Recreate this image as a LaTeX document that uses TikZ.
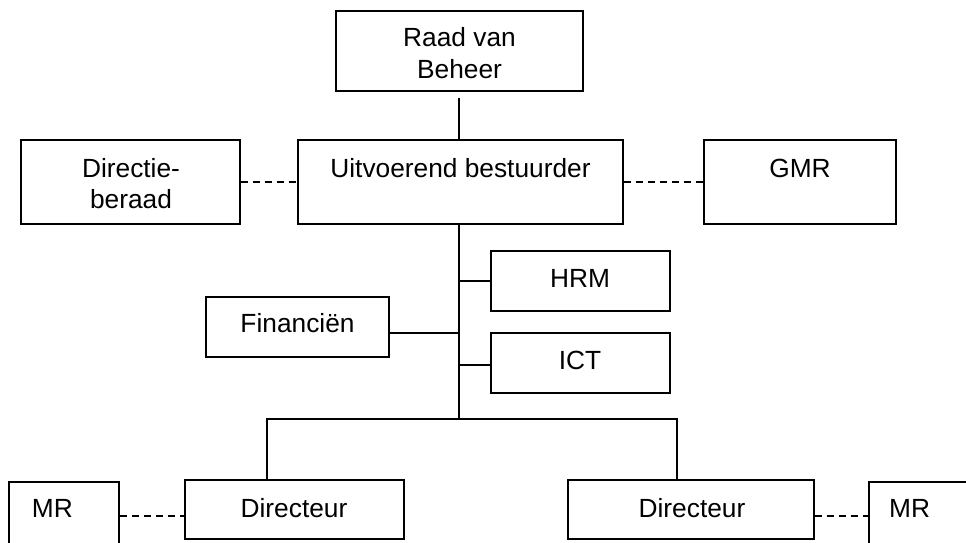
\documentclass[tikz,border=0pt]{standalone}
\usepackage{fontspec}
\setmainfont{Liberation Sans}
\begin{document}
\begin{tikzpicture}[x=1pt,y=-1pt,
 box/.style={draw, line width=1.4pt, inner sep=0pt, rectangle},
 txt/.style={inner sep=0pt, anchor=base, font=\fontsize{26.3}{31.5}\selectfont},
 conn/.style={line width=1.4pt},
 dconn/.style={line width=1.4pt, dash pattern=on 7pt off 5pt}]
\useasboundingbox (0,0) rectangle (966,543);
\begin{scope}
\clip (0,0) rectangle (966,543);
% boxes
\node[box, minimum width=247pt, minimum height=80pt] (raad) at (459.5,51) {};
\node[box, minimum width=219pt, minimum height=84pt] (dir) at (130.5,182) {};
\node[box, minimum width=325pt, minimum height=84pt] (uitv) at (460.5,182) {};
\node[box, minimum width=192pt, minimum height=84pt] (gmr) at (800,182) {};
\node[box, minimum width=179pt, minimum height=60pt] (hrm) at (580.5,281) {};
\node[box, minimum width=183pt, minimum height=60pt] (fin) at (297.5,327) {};
\node[box, minimum width=179pt, minimum height=60pt] (ict) at (580.5,363) {};
\node[box, minimum width=219pt, minimum height=59pt] (dirL) at (294.5,509.5) {};
\node[box, minimum width=246pt, minimum height=59pt] (dirR) at (691,509.5) {};
\node[box, minimum width=110pt, minimum height=118pt] (mrL) at (64,541) {};
\node[box, minimum width=131pt, minimum height=118pt] (mrR) at (934.5,541) {};
% texts
\node[txt] (t1) at (459.5,46.5) {Raad van};
\node[txt] (t2) at (459.5,78) {Beheer};
\node[txt] (t3) at (131,177) {Directie-};
\node[txt] (t4) at (131,208.5) {beraad};
\node[txt] (t5) at (460.5,177) {Uitvoerend bestuurder};
\node[txt] (t6) at (800,177) {GMR};
\node[txt] (t7) at (580,287) {HRM};
\node[txt] (t8) at (297.5,332) {Financiën};
\node[txt] (t9) at (580,369) {ICT};
\node[txt] (t10) at (294,517) {Directeur};
\node[txt] (t11) at (692,517) {Directeur};
\node[txt, anchor=base west] (t12) at (31.7,517) {MR};
\node[txt, anchor=base west] (t13) at (889,517) {MR};
% connectors
\coordinate (trunk) at (459,419);
\coordinate (busL) at (267,419);
\coordinate (busR) at (677,419);
\coordinate (dl) at (0,516);
\draw[conn] ([yshift=-6pt]trunk |- raad.south) -- (trunk |- uitv.north);
\draw[conn] (trunk |- uitv.south) -- (trunk);
\draw[conn] (hrm.west) -- (hrm.west -| trunk);
\draw[conn] ([yshift=-6pt]fin.east) -- ([yshift=-6pt]fin.east -| trunk);
\draw[conn] ([yshift=-2pt]ict.west) -- ([yshift=-2pt]ict.west -| trunk);
\draw[conn] (busL |- dirL.north) -- (busL) -- (busR) -- (busR |- dirR.north);
\draw[dconn] (dir.east) -- (uitv.west);
\draw[dconn] (uitv.east) -- (gmr.west);
\draw[dconn] (mrL.east |- dl) -- (dirL.west |- dl);
\draw[dconn] (dirR.east |- dl) -- (mrR.west |- dl);
\end{scope}
\end{tikzpicture}
\end{document}
